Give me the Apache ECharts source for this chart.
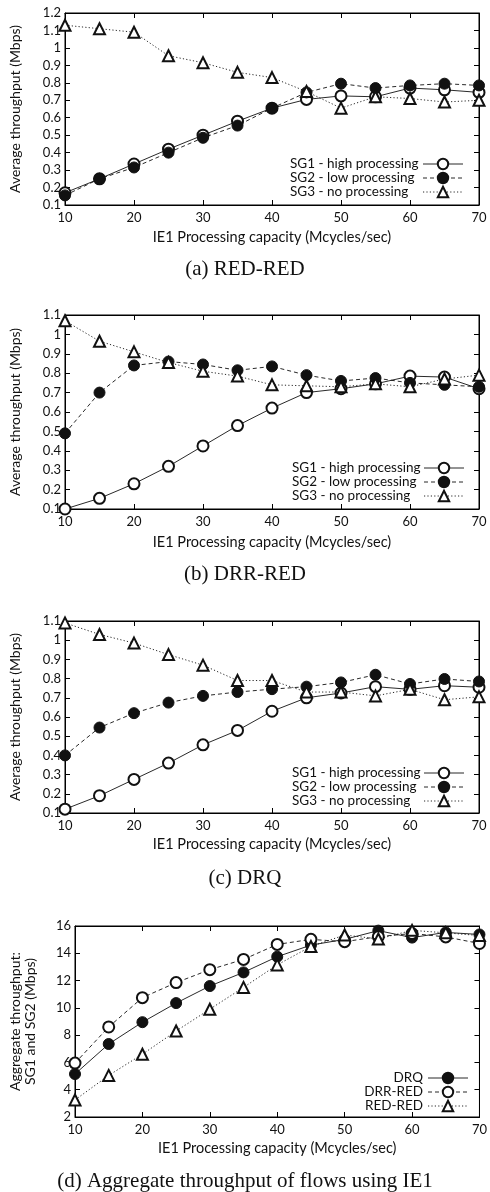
<!DOCTYPE html>
<html>
<head>
<meta charset="utf-8">
<script src="https://cdn.jsdelivr.net/npm/echarts@6/dist/echarts.min.js"></script>
<style>
html,body{margin:0;padding:0;background:#fff;}
#chart{width:490px;height:1192px;}
</style>
</head>
<body>
<div id="chart"></div>
<script>
// ---- data ----
const capacity = [10, 15, 20, 25, 30, 35, 40, 45, 50, 55, 60, 65, 70];

const redSG1 = [0.17, 0.25, 0.335, 0.42, 0.50, 0.58, 0.655, 0.705, 0.725, 0.72, 0.77, 0.76, 0.745];
const redSG2 = [0.155, 0.25, 0.315, 0.40, 0.485, 0.555, 0.655, 0.745, 0.795, 0.77, 0.785, 0.795, 0.785];
const redSG3 = [1.13, 1.11, 1.09, 0.955, 0.915, 0.86, 0.83, 0.75, 0.655, 0.72, 0.71, 0.69, 0.70];

const drrSG1 = [0.10, 0.155, 0.23, 0.32, 0.425, 0.53, 0.62, 0.70, 0.72, 0.745, 0.785, 0.78, 0.72];
const drrSG2 = [0.49, 0.70, 0.84, 0.86, 0.845, 0.815, 0.835, 0.79, 0.76, 0.775, 0.75, 0.74, 0.73];
const drrSG3 = [1.07, 0.965, 0.91, 0.855, 0.81, 0.785, 0.74, 0.735, 0.73, 0.745, 0.73, 0.77, 0.79];

const drqSG1 = [0.12, 0.19, 0.275, 0.36, 0.455, 0.53, 0.63, 0.70, 0.725, 0.758, 0.744, 0.763, 0.755];
const drqSG2 = [0.40, 0.545, 0.62, 0.675, 0.71, 0.73, 0.745, 0.758, 0.78, 0.82, 0.772, 0.798, 0.785];
const drqSG3 = [1.09, 1.03, 0.985, 0.925, 0.87, 0.79, 0.79, 0.73, 0.73, 0.71, 0.744, 0.69, 0.705];

const aggDRQ = [5.15, 7.35, 8.95, 10.35, 11.6, 12.6, 13.75, 14.6, 15.02, 15.66, 15.15, 15.53, 15.38];
const aggDRR = [5.95, 8.6, 10.75, 11.85, 12.8, 13.55, 14.65, 15.02, 14.85, 15.22, 15.45, 15.2, 14.72];
const aggRED = [3.25, 5.05, 6.6, 8.3, 9.9, 11.5, 13.15, 14.5, 15.34, 15.05, 15.68, 15.5, 15.3];

const sgNames = ['SG1 - high processing', 'SG2 - low processing', 'SG3 - no processing'];
const aggNames = ['DRQ', 'DRR-RED', 'RED-RED'];
const captions = ['(a) RED-RED', '(b) DRR-RED', '(c) DRQ', '(d) Aggregate throughput of flows using IE1'];
const xTitle = 'IE1 Processing capacity (Mcycles/sec)';
const yTitleSG = 'Average throughput (Mbps)';
const yTitleAgg = 'Aggregate throughput:\nSG1 and SG2 (Mbps)';

// ---- layout ----
const FONT = 'Lato';
const grids = [
  {left: 65, top: 13, width: 414, height: 192},
  {left: 62, top: 315, width: 417, height: 194},
  {left: 62, top: 621, width: 417, height: 192},
  {left: 64, top: 926, width: 419, height: 191}
];
const yRanges = [
  {min: 0.1, max: 1.2, interval: 0.1},
  {min: 0.1, max: 1.1, interval: 0.1},
  {min: 0.1, max: 1.1, interval: 0.1},
  {min: 2, max: 16, interval: 2}
];

const styles = [
  {symbol: 'emptyCircle', type: 'solid'},
  {symbol: 'circle', type: [4, 3]},
  {symbol: 'emptyTriangle', type: [1.2, 2.2]}
];
const aggStyles = [
  {symbol: 'circle', type: 'solid'},
  {symbol: 'emptyCircle', type: [4, 3]},
  {symbol: 'emptyTriangle', type: [1.2, 2.2]}
];

const panelData = [
  [redSG1, redSG2, redSG3],
  [drrSG1, drrSG2, drrSG3],
  [drqSG1, drqSG2, drqSG3],
  [aggDRQ, aggDRR, aggRED]
];

const legendPos = [
  {left: 290, top: 157, w: 128, align: 'left'},
  {left: 292, top: 461, w: 127, align: 'left'},
  {left: 292, top: 766, w: 127, align: 'left'},
  {left: 343, top: 1071, w: 80, align: 'right'}
];
const capTop = [259, 564, 868, 1171];
const xGap = [25, 26, 24, 24];

const option = {
  backgroundColor: '#fff',
  animation: false,
  grid: [], xAxis: [], yAxis: [], series: [], legend: [], graphic: []
};

grids.forEach((g, i) => {
  option.grid.push(Object.assign({show: true, borderColor: '#000', borderWidth: 1, backgroundColor: 'transparent'}, g));
  const tickStyle = {show: true, inside: true, length: 5, lineStyle: {color: '#000', width: 1}};
  option.xAxis.push({
    gridIndex: i, type: 'value', min: 10, max: 70, interval: 10, position: 'bottom',
    name: xTitle, nameLocation: 'middle', nameGap: xGap[i],
    nameTextStyle: {fontFamily: FONT, fontSize: 14.5, color: '#111'},
    axisLine: {show: true, onZero: false, lineStyle: {color: '#000', width: 1}},
    axisTick: tickStyle, splitLine: {show: false},
    axisLabel: {fontFamily: FONT, fontSize: 13, color: '#111', margin: 6}
  });
  option.xAxis.push({
    gridIndex: i, type: 'value', min: 10, max: 70, interval: 10, position: 'top',
    axisLine: {show: true, onZero: false, lineStyle: {color: '#000', width: 1}},
    axisTick: tickStyle, splitLine: {show: false}, axisLabel: {show: false}
  });
  const yr = yRanges[i];
  option.yAxis.push({
    gridIndex: i, type: 'value', min: yr.min, max: yr.max, interval: yr.interval, position: 'left',
    name: i === 3 ? yTitleAgg : yTitleSG, nameLocation: 'middle', nameGap: i === 3 ? 37 : 42,
    nameTextStyle: {fontFamily: FONT, fontSize: 14, color: '#111', lineHeight: 15},
    axisLine: {show: true, onZero: false, lineStyle: {color: '#000', width: 1}},
    axisTick: tickStyle, splitLine: {show: false},
    axisLabel: {fontFamily: FONT, fontSize: 13, color: '#111', margin: 4}
  });
  option.yAxis.push({
    gridIndex: i, type: 'value', min: yr.min, max: yr.max, interval: yr.interval, position: 'right',
    axisLine: {show: true, onZero: false, lineStyle: {color: '#000', width: 1}},
    axisTick: tickStyle, splitLine: {show: false}, axisLabel: {show: false}
  });

  const names = i === 3 ? aggNames : sgNames;
  const st = i === 3 ? aggStyles : styles;
  panelData[i].forEach((arr, k) => {
    option.series.push({
      type: 'line', name: names[k], xAxisIndex: i * 2, yAxisIndex: i * 2,
      data: capacity.map((x, j) => [x, arr[j]]),
      symbol: st[k].symbol, symbolSize: 11,
      showAllSymbol: true, clip: false,
      lineStyle: {color: '#111', width: 0.9, type: st[k].type},
      itemStyle: {color: '#111', borderColor: '#111', borderWidth: 1},
      emphasis: {disabled: true},
      z: 2 + k
    });
  });

  const lp = legendPos[i];
  option.legend.push({
    data: names,
    orient: 'vertical', align: 'right',
    left: lp.left, top: lp.top, padding: 0,
    itemWidth: 40, itemHeight: 13, itemGap: 0,
    selectedMode: false,
    lineStyle: {width: 0.9},
    formatter: name => '{t|' + name + '}',
    textStyle: {
      fontFamily: FONT, fontSize: 13.5, color: '#111',
      rich: {t: {fontFamily: FONT, fontSize: 13.5, color: '#111', width: lp.w, align: lp.align, lineHeight: 14}}
    }
  });

  option.graphic.push({
    type: 'text', left: 'center', top: capTop[i],
    style: {text: captions[i], font: '21px "Liberation Serif"', fill: '#111'}
  });
});

const chart = echarts.init(document.getElementById('chart'), null, {renderer: 'canvas'});
chart.setOption(option);
</script>
</body>
</html>
